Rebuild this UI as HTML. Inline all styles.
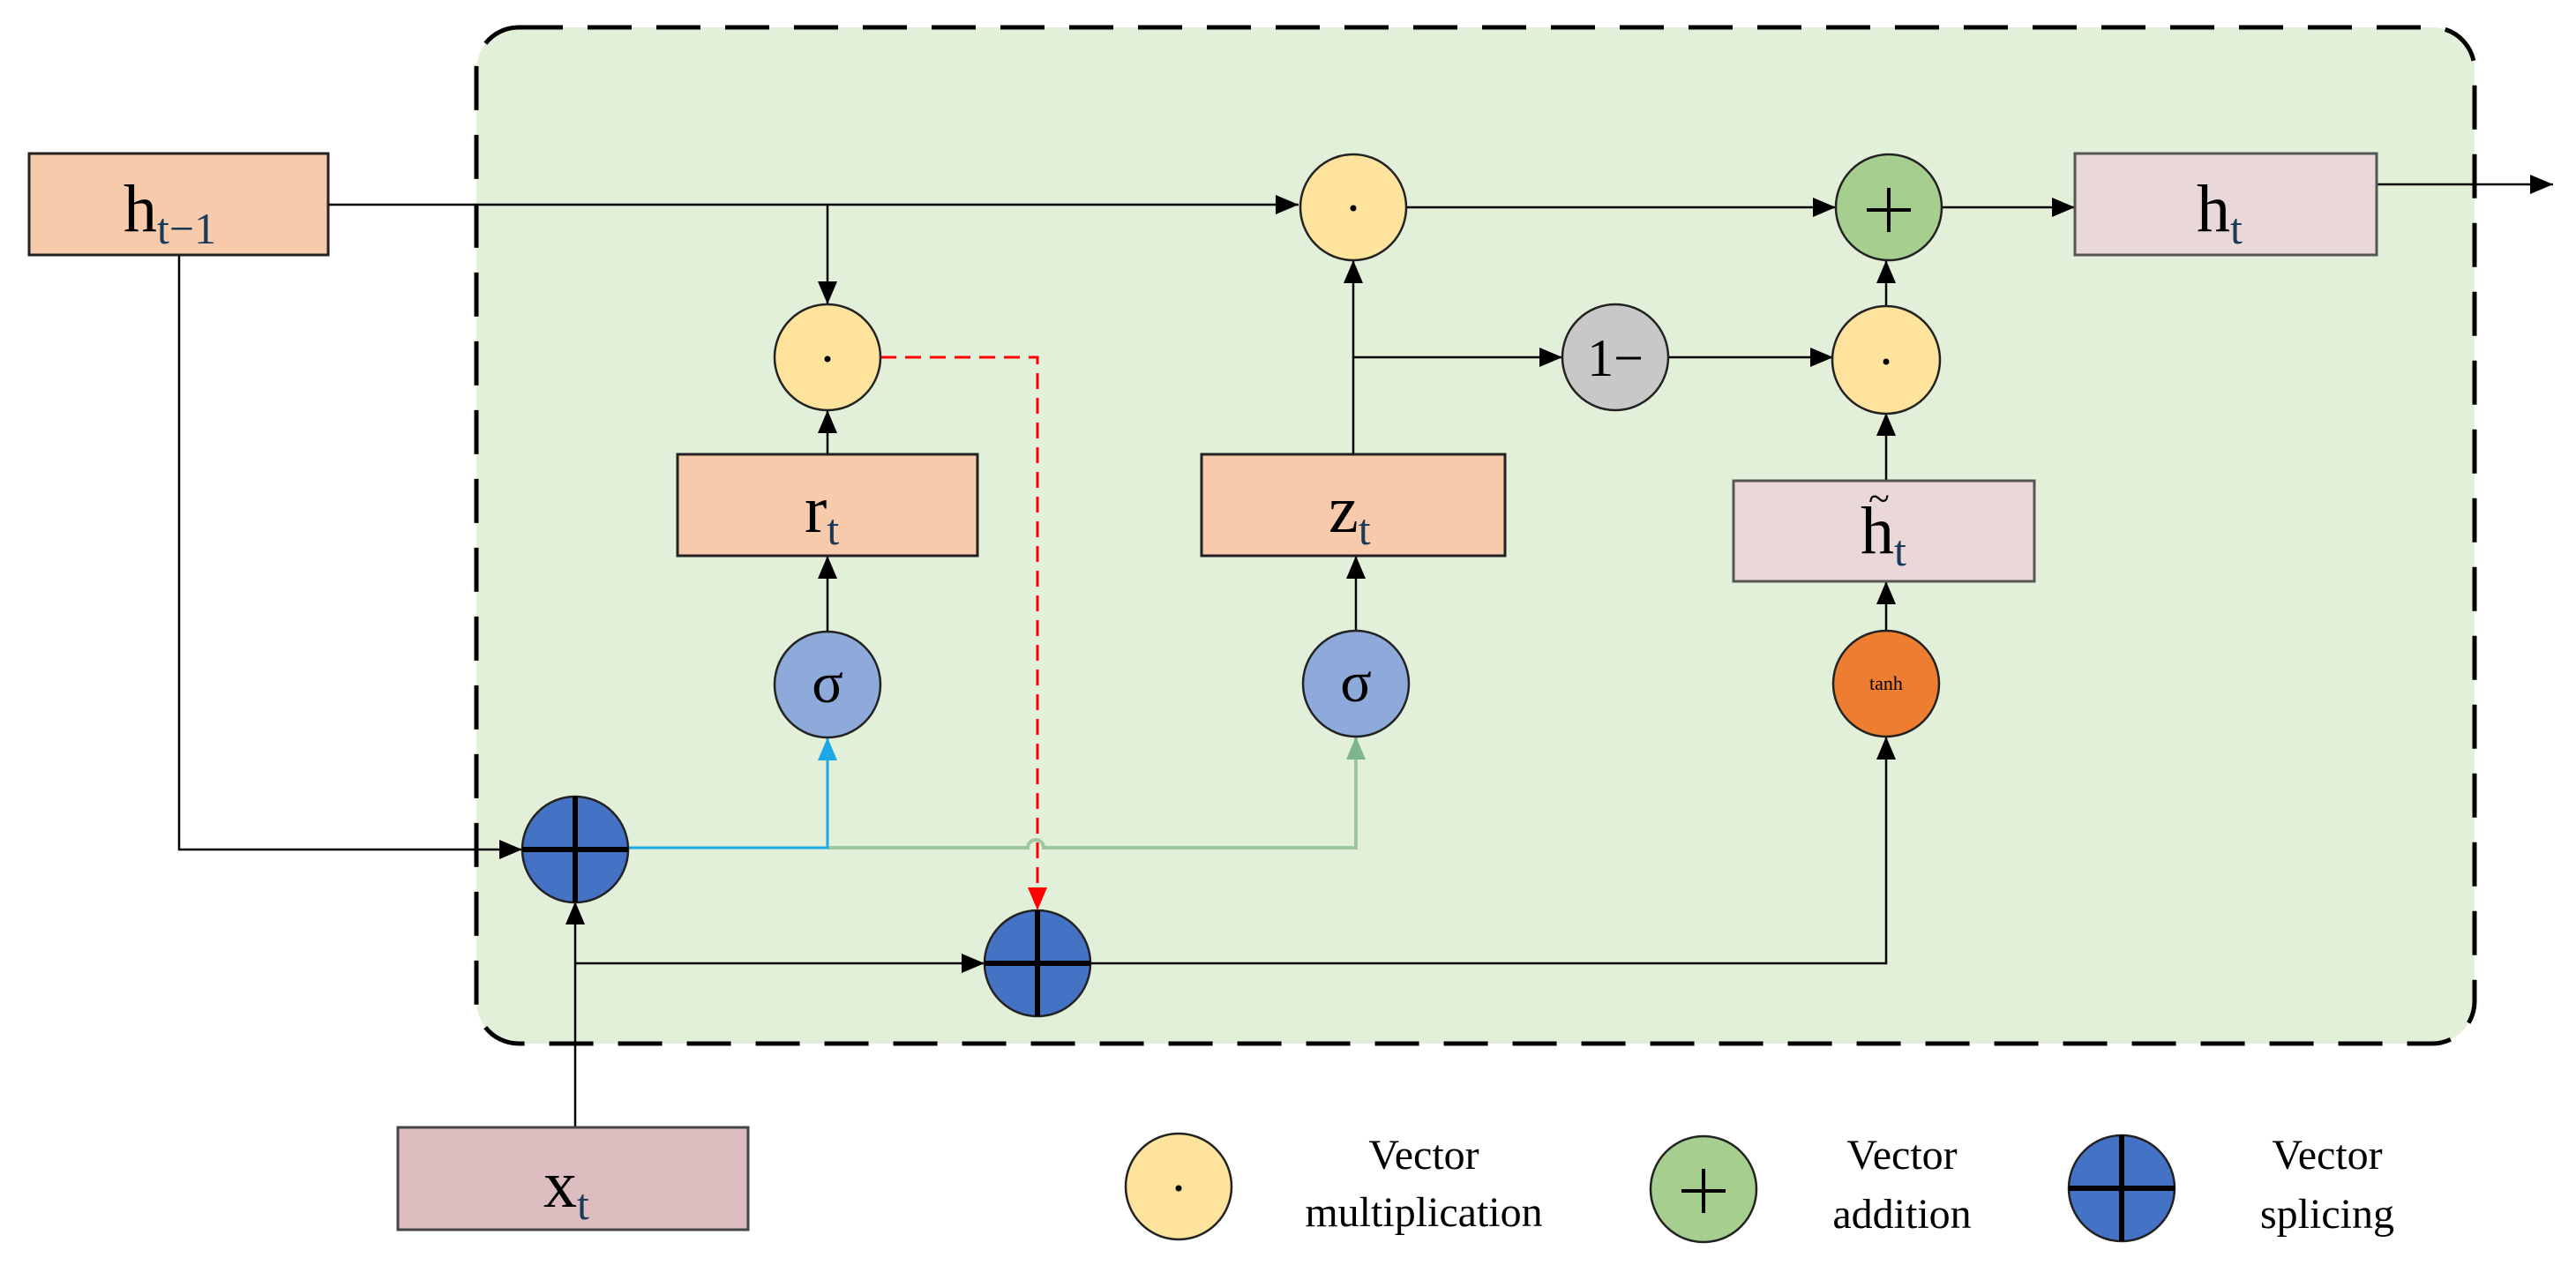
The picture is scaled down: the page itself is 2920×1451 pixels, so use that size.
<!DOCTYPE html>
<html><head><meta charset="utf-8"><style>
html,body{margin:0;padding:0;background:#fff;}
svg{display:block;}
text{font-family:"Liberation Serif",serif;fill:#000;}
</style></head><body>
<svg width="2920" height="1451" viewBox="0 0 2920 1451" xmlns="http://www.w3.org/2000/svg">
<defs>
<marker id="ak" markerWidth="26" markerHeight="22" refX="26" refY="11" orient="auto" markerUnits="userSpaceOnUse"><path d="M0,0 L26,11 L0,22 z" fill="#000"/></marker>
<marker id="ar" markerWidth="26" markerHeight="22" refX="26" refY="11" orient="auto" markerUnits="userSpaceOnUse"><path d="M0,0 L26,11 L0,22 z" fill="#f00"/></marker>
<marker id="ac" markerWidth="26" markerHeight="22" refX="26" refY="11" orient="auto" markerUnits="userSpaceOnUse"><path d="M0,0 L26,11 L0,22 z" fill="#1aa9e6"/></marker>
<marker id="ag" markerWidth="26" markerHeight="22" refX="26" refY="11" orient="auto" markerUnits="userSpaceOnUse"><path d="M0,0 L26,11 L0,22 z" fill="#7fb58a"/></marker>
</defs>
<rect x="540" y="31" width="2265" height="1152" rx="48" fill="#e2efd9" stroke="#000" stroke-width="5" stroke-dasharray="50,28"/>

<g stroke="#000" stroke-width="2.5" fill="none">
<path d="M372,232 H1472" marker-end="url(#ak)"/>
<path d="M938,232 V345" marker-end="url(#ak)"/>
<path d="M1594,235 H2081" marker-end="url(#ak)"/>
<path d="M2201,235 H2352" marker-end="url(#ak)"/>
<path d="M2694,209 H2894" marker-end="url(#ak)"/>
<path d="M1534,515 V295" marker-end="url(#ak)"/>
<path d="M1534,405 H1771" marker-end="url(#ak)"/>
<path d="M1891,405 H2078" marker-end="url(#ak)"/>
<path d="M2138,348 V295" marker-end="url(#ak)"/>
<path d="M2138,545 V468" marker-end="url(#ak)"/>
<path d="M2138,715 V659" marker-end="url(#ak)"/>
<path d="M938,515 V465" marker-end="url(#ak)"/>
<path d="M938,716 V630" marker-end="url(#ak)"/>
<path d="M1537,715 V630" marker-end="url(#ak)"/>
<path d="M203,289 V963 H592" marker-end="url(#ak)"/>
<path d="M652,1278 V1022" marker-end="url(#ak)"/>
<path d="M652,1092 H1116" marker-end="url(#ak)"/>
<path d="M1236,1092 H2138 V835" marker-end="url(#ak)"/>
</g>
<path d="M938,961 H1165 a9,9 0 0 1 18,0 H1537 V835" stroke="#9fc79f" stroke-width="4" fill="none" marker-end="url(#ag)"/>
<path d="M712,961 H938 V836" stroke="#1aa9e6" stroke-width="3" fill="none" marker-end="url(#ac)"/>
<path d="M998,405 H1176 V1032" stroke="#f00" stroke-width="3" fill="none" stroke-dasharray="18,10" marker-end="url(#ar)"/>

<g stroke="#222" stroke-width="3">
<rect x="33" y="174" width="339" height="115" fill="#f6caab"/>
<rect x="768" y="515" width="340" height="115" fill="#f6caab"/>
<rect x="1362" y="515" width="344" height="115" fill="#f6caab"/>
<rect x="2352" y="174" width="342" height="115" fill="#ead8d8" stroke="#555"/>
<rect x="1965" y="545" width="341" height="114" fill="#ead8d8" stroke="#555"/>
<rect x="451" y="1278" width="397" height="116" fill="#ddbcc0" stroke="#444"/>
</g>
<text x="140" y="262" font-size="76">h<tspan font-size="50" dy="14" fill="#1a3a5a">t−1</tspan></text>
<text x="912" y="603" font-size="76">r<tspan font-size="50" dy="14" fill="#1a3a5a">t</tspan></text>
<text x="1506" y="603" font-size="76">z<tspan font-size="50" dy="14" fill="#1a3a5a">t</tspan></text>
<text x="2490" y="262" font-size="76">h<tspan font-size="50" dy="14" fill="#1a3a5a">t</tspan></text>
<text x="2109" y="627" font-size="76">h<tspan font-size="50" dy="14" fill="#1a3a5a">t</tspan></text>
<text x="2118" y="580" font-size="44">~</text>
<text x="616" y="1368" font-size="76">x<tspan font-size="50" dy="14" fill="#1a3a5a">t</tspan></text>

<g stroke="#222" stroke-width="2.5">
<circle cx="938" cy="405" r="60" fill="#fde39c"/>
<circle cx="1534" cy="235" r="60" fill="#fde39c"/>
<circle cx="2138" cy="408" r="61" fill="#fde39c"/>
<circle cx="2141" cy="235" r="60" fill="#a6ce8e"/>
<circle cx="1831" cy="405" r="60" fill="#c8c8c8"/>
<circle cx="938" cy="776" r="60" fill="#8eaadb"/>
<circle cx="1537" cy="775" r="60" fill="#8eaadb"/>
<circle cx="2138" cy="775" r="60" fill="#ed7d31"/>
<circle cx="652" cy="963" r="60" fill="#4472c4"/>
<circle cx="1176" cy="1092" r="60" fill="#4472c4"/>
<circle cx="1336" cy="1345" r="60" fill="#fde39c"/>
<circle cx="1931" cy="1348" r="60" fill="#a6ce8e"/>
<circle cx="2405" cy="1347" r="60" fill="#4472c4"/>
</g>
<g fill="#000">
<circle cx="938" cy="407" r="3.5"/><circle cx="1534" cy="236" r="3.5"/><circle cx="2138" cy="410" r="3.5"/><circle cx="1336" cy="1347" r="3.5"/>
</g>
<g stroke="#000" stroke-width="6">
<path d="M592,963 H712 M652,903 V1023"/>
<path d="M1116,1092 H1236 M1176,1032 V1152"/>
<path d="M2345,1347 H2465 M2405,1287 V1407"/>
</g>
<g stroke="#000" stroke-width="4">
<path d="M2116,238 H2166 M2141,213 V263"/>
<path d="M1906,1350 H1956 M1931,1325 V1375"/>
</g>
<text x="1831" y="426" font-size="60" text-anchor="middle">1−</text>
<text x="938" y="796" font-size="66" text-anchor="middle">σ</text>
<text x="1537" y="795" font-size="66" text-anchor="middle">σ</text>
<text x="2138" y="782" font-size="22" text-anchor="middle">tanh</text>

<g font-size="48" text-anchor="middle">
<text x="1614" y="1325">Vector</text><text x="1614" y="1390">multiplication</text>
<text x="2156" y="1325">Vector</text><text x="2156" y="1392">addition</text>
<text x="2638" y="1325">Vector</text><text x="2638" y="1392">splicing</text>
</g>
</svg>
</body></html>
